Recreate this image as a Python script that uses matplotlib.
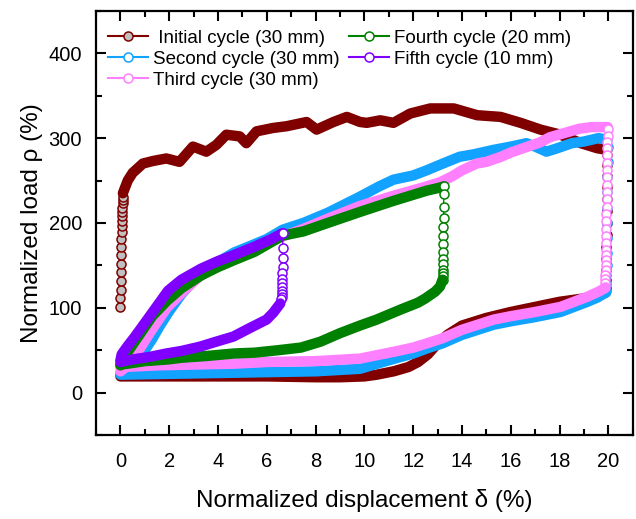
import matplotlib.pyplot as plt
from matplotlib.lines import Line2D
from matplotlib.ticker import MultipleLocator

plt.rcParams['font.family'] = ['Liberation Sans', 'DejaVu Sans']

# ---- data (normalized displacement %, normalized load %) ----
# initial cycle (30 mm)
init_rise_x = [0.0, 0.0, 0.01, 0.01, 0.02, 0.02, 0.03, 0.03, 0.04, 0.05, 0.05, 0.06, 0.07, 0.08, 0.08, 0.09, 0.1, 0.1]
init_rise_y = [101, 112, 121, 131, 142, 152, 162, 172, 181, 189, 196, 202, 208, 213, 218, 223, 227, 230]
init_load_x = [0.1, 0.3, 0.5, 0.92, 1.33, 1.88, 2.42, 2.97, 3.52, 3.93, 4.34, 4.89, 5.16, 5.58, 6.26, 6.81,
               7.63, 8.04, 8.73, 9.28, 9.82, 10.1, 10.65, 11.19, 11.88, 12.7, 13.66, 14.62, 15.58, 16.4,
               17.22, 18.04, 18.87, 19.55, 19.96]
init_load_y = [235, 250, 259, 270, 273, 276, 272, 290, 284, 292, 304, 302, 294, 308, 312, 314,
               319, 310, 319, 325, 319, 318, 321, 318, 329, 335, 335, 327, 325, 318,
               310, 304, 294, 288, 286]
init_drop_x = [19.96, 19.96, 19.95, 19.95, 19.94, 19.94, 19.93, 19.93, 19.92, 19.92, 19.91, 19.9, 19.9]
init_drop_y = [280, 268, 255, 242, 228, 214, 200, 186, 172, 158, 145, 133, 123]
init_unload_x = [19.9, 19.5, 19.0, 18.0, 17.0, 16.0, 15.0, 14.0, 13.4, 13.0, 12.6, 12.2, 11.8, 11.2,
                 10.5, 10.0, 9.0, 8.0, 6.0, 4.0, 2.0, 0.0]
init_unload_y = [118, 113, 111, 107, 101, 95, 88, 79, 68, 58, 45, 36, 30, 25,
                 21, 19, 18, 18, 19, 19, 19, 19]

# second cycle (30 mm)
sec_load_x = [0.0, 0.3, 0.6, 1.0, 1.3, 1.6, 2.0, 2.5, 3.0, 3.5, 4.0, 4.65, 5.5, 6.0, 6.65, 7.5, 8.5,
              9.82, 10.6, 11.19, 12.0, 12.55, 13.3, 13.9, 14.5, 15.27, 16.0, 16.64, 17.0, 17.46, 17.9,
              18.5, 19.0, 19.6, 19.96]
sec_load_y = [22, 25, 33, 50, 63, 78, 96, 116, 132, 145, 154, 165, 175, 181, 192, 200, 212,
              231, 243, 251, 256, 262, 271, 278, 281, 286, 290, 294, 290, 284, 288,
              294, 296, 300, 298]
sec_drop_x = [19.97, 19.97, 19.96, 19.96, 19.95, 19.95, 19.94, 19.94, 19.93, 19.92, 19.91, 19.9]
sec_drop_y = [290, 272, 254, 236, 218, 200, 182, 165, 150, 138, 128, 120]
sec_unload_x = [19.9, 19.55, 19.14, 18.04, 17.0, 16.0, 15.3, 14.0, 13.2, 12.56, 12.0, 11.0, 9.82,
                8.0, 6.0, 4.0, 2.0, 0.0]
sec_unload_y = [118, 112, 107, 95, 89, 84, 80, 68, 58, 52, 46, 38, 28,
                25, 24, 23, 22, 21]

# third cycle (30 mm)
third_load_x = [0.0, 0.4, 0.8, 1.26, 1.9, 2.6, 3.2, 4.0, 4.65, 5.5, 6.65, 7.5, 8.5, 9.82, 11.19,
                12.55, 13.1, 13.6, 14.0, 14.6, 15.0, 15.6, 16.0, 16.6, 17.2, 17.6, 18.2, 18.8,
                19.3, 19.97]
third_load_y = [25, 34, 52, 73, 100, 120, 136, 150, 159, 170, 184, 193, 205, 220, 232,
                243, 248, 255, 262, 270, 272, 278, 283, 289, 295, 301, 306, 311,
                313, 313]
third_drop_x = [19.97, 19.97, 19.96, 19.96, 19.96, 19.95, 19.95, 19.95, 19.94, 19.94, 19.93, 19.93,
                19.92, 19.92, 19.92, 19.91, 19.91, 19.9, 19.9, 19.9, 19.89, 19.89, 19.88, 19.87,
                19.86, 19.85]
third_drop_y = [311, 302, 295, 288, 280, 271, 262, 254, 245, 237, 228, 219,
                211, 202, 193, 184, 176, 168, 162, 156, 150, 145, 139, 134,
                129, 125]
third_unload_x = [19.85, 19.6, 19.14, 18.04, 17.0, 16.0, 15.3, 14.0, 13.2, 12.56, 12.0, 11.2, 10.5,
                  9.82, 8.0, 6.0, 4.65, 3.0, 1.5, 0.0]
third_unload_y = [123, 119, 113, 101, 95, 90, 86, 74, 64, 58, 53, 48, 44,
                  40, 37, 36, 34, 33, 32, 30]

# fourth cycle (20 mm)
four_load_x = [0.0, 0.25, 0.8, 1.3, 1.9, 2.5, 3.3, 4.0, 4.65, 5.5, 6.65, 7.5, 8.5, 9.82, 11.19,
               12.55, 13.0, 13.25]
four_load_y = [32, 46, 69, 90, 108, 123, 138, 148, 156, 166, 185, 190, 200, 213, 226,
               238, 241, 243]
four_drop_x = [13.25, 13.25, 13.25, 13.25, 13.24, 13.24, 13.24, 13.23, 13.23, 13.23, 13.22, 13.22,
               13.21, 13.2]
four_drop_y = [243, 234, 219, 206, 195, 185, 175, 166, 158, 151, 145, 141, 137, 133]
four_unload_x = [13.2, 13.1, 12.9, 12.5, 12.2, 11.5, 10.5, 9.82, 9.0, 8.2, 7.4, 6.5, 5.5, 4.65,
                 3.5, 2.5, 1.95, 1.0, 0.3, 0.0]
four_unload_y = [133, 125, 119, 111, 106, 98, 86, 79, 70, 60, 53, 50, 47, 46,
                 43, 41, 39, 37, 34, 33]

# fifth cycle (10 mm)
five_load_x = [0.0, 0.05, 0.3, 0.57, 1.0, 1.3, 1.95, 2.5, 3.3, 4.0, 4.65, 5.5, 6.2, 6.65]
five_load_y = [38, 45, 55, 65, 82, 94, 120, 133, 146, 155, 162, 172, 181, 188]
five_drop_x = [6.65, 6.65, 6.65, 6.65, 6.64, 6.64, 6.64, 6.63, 6.63, 6.62, 6.61, 6.6]
five_drop_y = [188, 170.5, 158.7, 148.1, 141, 133.9, 129.2, 124.5, 119.8, 116.3, 112.7, 110.4]
five_unload_x = [6.55, 6.26, 5.99, 5.3, 4.63, 3.93, 3.25, 2.5, 1.88, 1.2, 0.5, 0.0]
five_unload_y = [105, 94, 86, 76, 66, 60, 54, 49, 46, 42, 39, 36]

labels = [' Initial cycle (30 mm)', 'Second cycle (30 mm)', 'Third cycle (30 mm)',
          'Fourth cycle (20 mm)', 'Fifth cycle (10 mm)']
colors = ['#800000', '#11a3ff', '#ff80ff', '#008000', '#8000ff']


def band(ax, x, y, c):
    ax.plot(x, y, color=c, lw=7.5, solid_capstyle='round', solid_joinstyle='round')


def drop(ax, x, y, c, fc='white'):
    ax.plot(x, y, color=c, lw=1, marker='o', ms=6.5, mfc=fc, mec=c, mew=1.1)


fig = plt.figure(figsize=(6.36, 5.19), dpi=100)
ax = fig.add_axes([0.151, 0.162, 0.844, 0.817])

c = colors[0]
drop(ax, init_rise_x, init_rise_y, c, fc='#c0c0c0')
band(ax, init_load_x, init_load_y, c)
drop(ax, init_drop_x, init_drop_y, c, fc='#c0c0c0')
band(ax, init_unload_x, init_unload_y, c)

c = colors[1]
band(ax, sec_load_x, sec_load_y, c)
drop(ax, sec_drop_x, sec_drop_y, c)
band(ax, sec_unload_x, sec_unload_y, c)

c = colors[2]
band(ax, third_load_x, third_load_y, c)
drop(ax, third_drop_x, third_drop_y, c)
band(ax, third_unload_x, third_unload_y, c)

c = colors[3]
band(ax, four_load_x, four_load_y, c)
drop(ax, four_drop_x, four_drop_y, c)
band(ax, four_unload_x, four_unload_y, c)

c = colors[4]
band(ax, five_load_x, five_load_y, c)
drop(ax, five_drop_x, five_drop_y, c)
band(ax, five_unload_x, five_unload_y, c)

handles = []
for i, c in enumerate(colors):
    fc = '#c0c0c0' if i == 0 else 'white'
    handles.append(Line2D([], [], color=c, lw=1.5, marker='o', ms=6.5, mfc=fc, mec=c, mew=1.1))
ax.legend(handles, labels, ncol=2, loc='upper left', bbox_to_anchor=(-0.012, 1.0), frameon=False,
          fontsize=13.5, handlelength=2.1, handletextpad=0.3, columnspacing=0.5,
          labelspacing=0.2, borderaxespad=0.6)

ax.set_xlim(-1, 21)
ax.set_ylim(-50, 450)
ax.xaxis.set_major_locator(MultipleLocator(2))
ax.xaxis.set_minor_locator(MultipleLocator(1))
ax.yaxis.set_major_locator(MultipleLocator(100))
ax.yaxis.set_minor_locator(MultipleLocator(50))
ax.tick_params(which='both', direction='in', top=True, right=True, width=1.5)
ax.tick_params(which='major', length=7, labelsize=14.5)
ax.tick_params(which='minor', length=4)
ax.tick_params(axis='x', pad=12)
ax.tick_params(axis='y', pad=10)
for s in ax.spines.values():
    s.set_linewidth(1.6)

ax.set_xlabel('Normalized displacement δ (%)', fontsize=17.5, labelpad=13)
ax.set_ylabel('Normalized load ρ (%)', fontsize=17.5, labelpad=4)

fig.savefig('out.png', dpi=100)
